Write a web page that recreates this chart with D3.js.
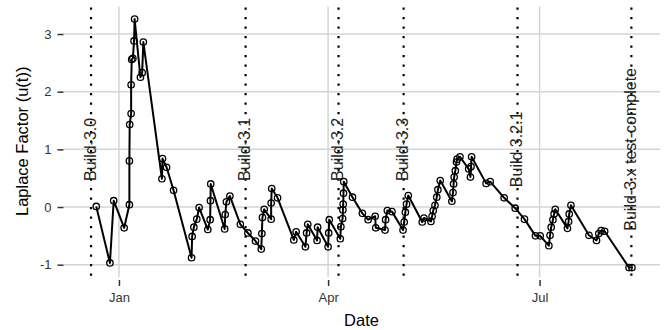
<!DOCTYPE html>
<html><head><meta charset="utf-8">
<script src="https://cdn.jsdelivr.net/npm/d3@7"></script>
<style>
html,body{margin:0;padding:0;background:#fff;}
svg{display:block;font-family:"Liberation Sans",Arial,Helvetica,sans-serif;}
</style></head>
<body><svg id="chart" width="664" height="330"></svg>
<script>
// ---- data ----
const dates = [
"2004-12-22 06:00","2004-12-28 03:00","2004-12-29 18:00","2005-01-03 06:00",
"2005-01-05 12:00","2005-01-05 12:00","2005-01-05 15:00","2005-01-06 06:00","2005-01-06 06:00","2005-01-06 12:00",
"2005-01-07 00:00","2005-01-07 12:00","2005-01-07 18:00","2005-01-10 06:00","2005-01-11 00:00","2005-01-11 12:00",
"2005-01-19 12:00","2005-01-19 18:00","2005-01-21 12:00","2005-01-24 12:00",
"2005-02-01 06:00","2005-02-01 12:00","2005-02-02 06:00","2005-02-03 12:00","2005-02-04 12:00",
"2005-02-08 06:00","2005-02-09 06:00","2005-02-09 09:00","2005-02-09 12:00",
"2005-02-15 12:00","2005-02-15 18:00","2005-02-16 06:00","2005-02-17 18:00",
"2005-02-22 06:00","2005-02-25 12:00","2005-02-28 18:00",
"2005-03-03 06:00","2005-03-03 12:00","2005-03-03 18:00","2005-03-04 12:00",
"2005-03-07 12:00","2005-03-07 12:00","2005-03-07 18:00","2005-03-10 06:00",
"2005-03-17 06:00","2005-03-18 06:00","2005-03-22 06:00","2005-03-22 18:00","2005-03-23 06:00",
"2005-03-27 06:00","2005-03-27 12:00","2005-04-01 00:00","2005-04-01 06:00","2005-04-01 12:00",
"2005-04-06 06:00","2005-04-06 12:00","2005-04-07 06:00","2005-04-07 09:00","2005-04-07 12:00","2005-04-07 15:00","2005-04-07 18:00",
"2005-04-11 12:00","2005-04-15 18:00","2005-04-18 06:00","2005-04-21 06:00","2005-04-21 12:00",
"2005-04-25 12:00","2005-04-25 18:00","2005-04-26 12:00","2005-04-28 12:00",
"2005-05-03 06:00","2005-05-03 18:00","2005-05-04 06:00","2005-05-04 18:00","2005-05-05 12:00",
"2005-05-11 12:00","2005-05-12 06:00","2005-05-15 06:00","2005-05-15 18:00","2005-05-16 06:00",
"2005-05-17 00:00","2005-05-17 18:00","2005-05-18 06:00","2005-05-19 06:00",
"2005-05-24 06:00","2005-05-24 18:00","2005-05-25 00:00","2005-05-25 06:00","2005-05-25 18:00",
"2005-05-26 06:00","2005-05-26 12:00","2005-05-27 18:00",
"2005-05-31 12:00","2005-06-01 06:00","2005-06-01 12:00","2005-06-01 18:00",
"2005-06-08 00:00","2005-06-09 18:00","2005-06-15 18:00","2005-06-20 12:00","2005-06-24 12:00",
"2005-06-29 06:00","2005-07-01 06:00","2005-07-05 00:00","2005-07-05 12:00","2005-07-06 00:00",
"2005-07-06 18:00","2005-07-07 06:00","2005-07-07 18:00",
"2005-07-13 00:00","2005-07-13 12:00","2005-07-13 18:00","2005-07-14 12:00",
"2005-07-22 06:00","2005-07-25 12:00","2005-07-26 12:00","2005-07-27 12:00","2005-07-29 00:00",
"2005-08-08 12:00","2005-08-09 18:00"
];
const laplace = [
0.01,-0.97,0.11,-0.36,
0.04,0.80,1.43,1.62,2.12,2.56,
2.58,2.88,3.26,2.25,2.33,2.86,
0.49,0.84,0.69,0.29,
-0.88,-0.51,-0.35,-0.21,-0.01,
-0.39,-0.22,0.11,0.40,
-0.38,-0.13,0.09,0.19,
-0.30,-0.45,-0.59,
-0.73,-0.46,-0.18,-0.04,
-0.21,0.07,0.32,0.16,
-0.57,-0.43,-0.69,-0.45,-0.30,
-0.58,-0.35,-0.69,-0.45,-0.22,
-0.55,-0.34,-0.20,-0.05,0.05,0.24,0.44,
0.17,-0.11,-0.22,-0.16,-0.36,
-0.40,-0.22,-0.06,-0.08,
-0.40,-0.26,-0.09,0.05,0.20,
-0.26,-0.19,-0.25,-0.16,-0.06,
0.03,0.17,0.30,0.46,
0.10,0.25,0.40,0.52,0.63,
0.78,0.83,0.87,
0.66,0.52,0.70,0.87,
0.41,0.44,0.16,-0.02,-0.21,
-0.50,-0.50,-0.67,-0.49,-0.35,
-0.22,-0.12,-0.04,
-0.37,-0.25,-0.12,0.03,
-0.49,-0.58,-0.46,-0.41,-0.42,
-1.05,-1.05
];
const buildNames = ["Build-3.0","Build-3.1","Build-3.2","Build-3.3","Build 3.2.1","Build-3.x test-complete"];
const buildDates = ["2004-12-20 00:00","2005-02-24 12:00","2005-04-05 12:00","2005-05-03 12:00","2005-06-21 12:00","2005-08-09 12:00"];
const buildLabelY = 1;
const yTicks = [-1,0,1,2,3];
const xTickDates = ["2005-01-01 00:00","2005-04-01 00:00","2005-07-01 00:00"];
const xTitle = "Date";
const yTitle = "Laplace Factor (u(t))";

// ---- chart ----
const parse = d3.timeParse("%Y-%m-%d %H:%M");
const pts = dates.map((d,i)=>({t:parse(d), v:laplace[i]}));
const builds = buildNames.map((n,i)=>({name:n, t:parse(buildDates[i])}));

const L=64, R=659, T=6.6, B=280;
const allT = pts.map(p=>p.t).concat(builds.map(b=>b.t));
const tExt = d3.extent(allT);
const tPad = (tExt[1]-tExt[0])*0.05;
const x = d3.scaleTime().domain([new Date(+tExt[0]-tPad), new Date(+tExt[1]+tPad)]).range([L,R]);
const vExt = d3.extent(laplace);
const vPad = (vExt[1]-vExt[0])*0.05;
const y = d3.scaleLinear().domain([vExt[0]-vPad, vExt[1]+vPad]).range([B,T]);

const svg = d3.select("#chart");
const grid = "#d4d4d4";

// grid lines
svg.append("g").selectAll("line").data(yTicks).join("line")
  .attr("x1",L-0.5).attr("x2",R+1).attr("y1",d=>y(d)).attr("y2",d=>y(d))
  .attr("stroke",grid).attr("stroke-width",1.5);
svg.append("g").selectAll("line").data(xTickDates.map(parse)).join("line")
  .attr("x1",d=>x(d)).attr("x2",d=>x(d)).attr("y1",T).attr("y2",277)
  .attr("stroke",grid).attr("stroke-width",1.5);

// y axis
const yAxis = d3.axisLeft(y).tickValues(yTicks).tickSize(6).tickPadding(6).tickFormat(d=>String(d));
const gy = svg.append("g").attr("transform",`translate(${L-0.5},0)`).call(yAxis);
gy.select(".domain").remove();
gy.selectAll(".tick line").attr("stroke","#333").attr("stroke-width",1.5);
gy.selectAll(".tick text").attr("fill","#333").style("font-size","13px")
  .style("font-family",'"Liberation Sans",Arial,sans-serif');

// x axis
const xAxis = d3.axisBottom(x).tickValues(xTickDates.map(parse)).tickSize(6).tickPadding(7).tickFormat(d3.timeFormat("%b"));
const gx = svg.append("g").attr("transform",`translate(0,280)`).call(xAxis);
gx.select(".domain").remove();
gx.selectAll(".tick line").attr("stroke","#333").attr("stroke-width",1.5);
gx.selectAll(".tick text").attr("fill","#333").style("font-size","13px")
  .style("font-family",'"Liberation Sans",Arial,sans-serif');

// build lines
const bg = svg.append("g");
bg.selectAll("line").data(builds).join("line")
  .attr("x1",d=>x(d.t)).attr("x2",d=>x(d.t)).attr("y1",T+1).attr("y2",B)
  .attr("stroke","#000").attr("stroke-width",2.2).attr("stroke-dasharray","2.2 7.3");
bg.selectAll("text").data(builds).join("text")
  .attr("transform",d=>`translate(${x(d.t)+4.5},${y(buildLabelY)}) rotate(-90)`)
  .attr("text-anchor","middle").attr("fill","#222").style("font-size","16px")
  .text(d=>d.name);

// line + points
const line = d3.line().x(d=>x(d.t)).y(d=>y(d.v));
svg.append("path").datum(pts).attr("d",line).attr("fill","none")
  .attr("stroke","#000").attr("stroke-width",2).attr("stroke-linejoin","round");
svg.append("g").selectAll("circle").data(pts).join("circle")
  .attr("cx",d=>x(d.t)).attr("cy",d=>y(d.v)).attr("r",3.2)
  .attr("fill","none").attr("stroke","#000").attr("stroke-width",1.3);

// titles
svg.append("text").attr("x",(L+R)/2).attr("y",326).attr("text-anchor","middle")
  .attr("fill","#000").style("font-size","16.5px").text(xTitle);
svg.append("text").attr("transform",`translate(28,${(T+B)/2-2}) rotate(-90)`).attr("text-anchor","middle")
  .attr("fill","#000").style("font-size","16.5px").text(yTitle);
</script></body></html>
